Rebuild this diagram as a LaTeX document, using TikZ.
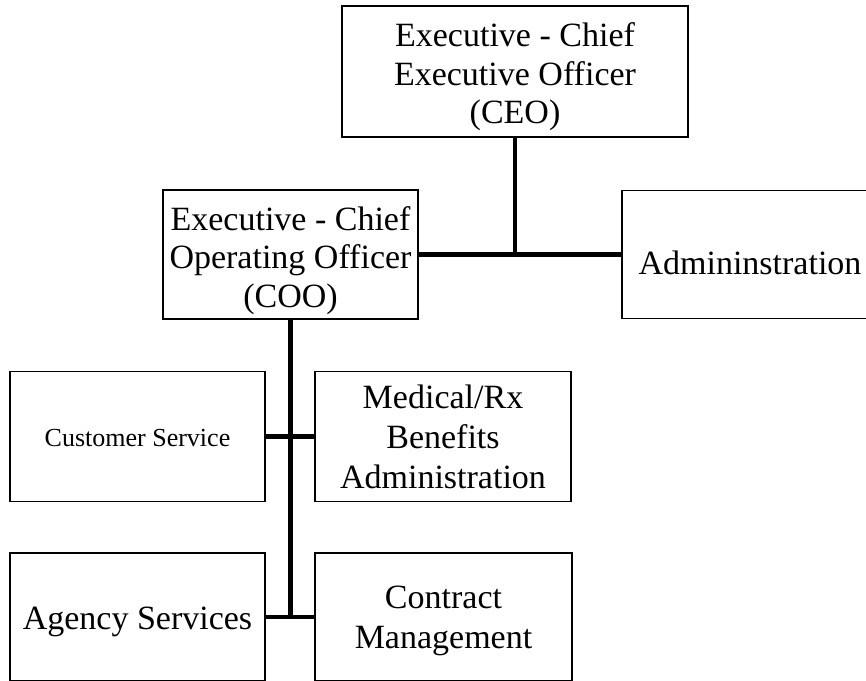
\documentclass[tikz,border=0pt]{standalone}
\usepackage{fontspec}
\setmainfont{Liberation Serif}
\begin{document}
\begin{tikzpicture}[x=1pt,y=-1pt,
  box/.style 2 args={draw=black, line width=1.3pt, inner sep=0pt,
    minimum width=#1, minimum height=#2},
  big/.style={font=\fontsize{34}{38.3}\selectfont, align=center, inner sep=0pt, anchor=base},
  bigwide/.style={font=\fontsize{34}{40}\selectfont, align=center, inner sep=0pt, anchor=base},
  small/.style={font=\fontsize{26}{30}\selectfont, inner sep=0pt, anchor=base},
  link/.style={draw=black, line width=4.5pt}]
  \clip (0,0) rectangle (866,680);

  % boxes
  \node[box={346}{131}] (ceo) at (515,71.5) {};
  \node[box={255}{129}] (coo) at (290.5,254.5) {};
  \node[box={256}{128}] (adm) at (750,254.5) {};
  \node[box={255}{130}] (cs)  at (137.5,436.5) {};
  \node[box={256}{130}] (med) at (443,436.5) {};
  \node[box={255}{128}] (ag)  at (137.5,617) {};
  \node[box={257}{128}] (cm)  at (443.5,617) {};

  % labels, placed by the baseline of their last line
  \node[big] (ceo-t) at (515,123.3) {Executive - Chief\\Executive Officer\\(CEO)};
  \node[big] (coo-t) at (290.5,307) {Executive - Chief\\Operating Officer\\(COO)};
  \node[big] (adm-t) at (750,274) {Admininstration};
  \node[small] (cs-t) at (137.5,446) {Customer Service};
  \node[bigwide] (med-t) at (443,488.3) {Medical/Rx\\Benefits\\Administration};
  \node[big] (ag-t) at (137.5,629) {Agency Services};
  \node[bigwide] (cm-t) at (443.5,648) {Contract\\Management};

  % reporting lines
  \coordinate (j1) at (ceo.south |- coo.east);
  \coordinate (j2) at (coo.south |- ag.east);
  \draw[link] (ceo.south) -- (j1);
  \draw[link] (coo.east) -- (adm.west);
  \draw[link] (coo.south) -- (j2);
  \draw[link] (cs.east) -- (med.west);
  \draw[link] (ag.east) -- (cm.west);
\end{tikzpicture}
\end{document}
